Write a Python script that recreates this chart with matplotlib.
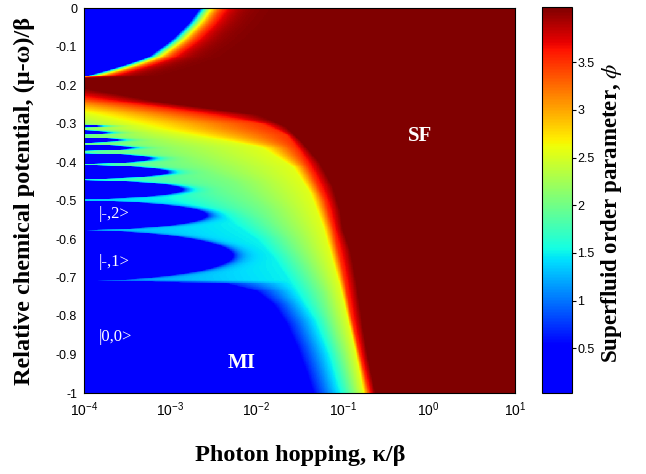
import numpy as np
import matplotlib
matplotlib.use('Agg')
import matplotlib.pyplot as plt
from matplotlib.colors import ListedColormap

plt.rcParams['axes.unicode_minus'] = False
plt.rcParams['mathtext.fontset'] = 'stix'

# contour lines of the order parameter
# (log10 kappa, mu) points along each line
lev_phi = [0.7, 1.5, 2.05, 2.55, 3.5, 4.08]
c1_k = [-6.0, -3.2, -2.3, -1.95, -1.75, -1.60, -1.48, -1.38, -1.29]
c1_mu = [-0.705, -0.711, -0.716, -0.735, -0.77, -0.82, -0.88, -0.94, -1.0]
c2_k = [-4.0, -3.12, -2.34, -2.0, -1.8, -1.55, -1.32, -1.16, -1.03]
c2_mu = [-0.45, -0.49, -0.55, -0.60, -0.65, -0.73, -0.81, -0.90, -1.0]
c3_k = [-4.0, -3.12, -2.3, -1.9, -1.6, -1.40, -1.23, -1.0, -0.88]
c3_mu = [-0.315, -0.38, -0.45, -0.52, -0.60, -0.67, -0.74, -0.90, -1.0]
c4_k = [-4.0, -3.12, -1.96, -1.58, -1.38, -1.23, -1.03, -0.85, -0.76]
c4_mu = [-0.273, -0.317, -0.361, -0.413, -0.481, -0.569, -0.725, -0.896, -1.0]
c5_k = [-4.0, -3.12, -1.96, -1.65, -1.50, -1.35, -1.20, -1.10, -1.00, -0.90, -0.80, -0.69]
c5_mu = [-0.235, -0.26, -0.30, -0.33, -0.375, -0.43, -0.50, -0.58, -0.68, -0.80, -0.90, -1.0]
c6_k = [-4.0, -3.12, -1.96, -1.65, -1.46, -1.26, -1.11, -1.03, -0.995, -0.91, -0.83, -0.76, -0.70, -0.62]
c6_mu = [-0.208, -0.244, -0.278, -0.309, -0.351, -0.403, -0.465, -0.525, -0.577, -0.629, -0.725, -0.836, -0.914, -1.0]
contours = [(c1_k, c1_mu), (c2_k, c2_mu), (c3_k, c3_mu),
            (c4_k, c4_mu), (c5_k, c5_mu), (c6_k, c6_mu)]

# Mott lobes on the left: top and bottom in mu, tip in log10 kappa
lobe_top = [-0.302, -0.318, -0.336, -0.355, -0.377, -0.408, -0.447, -0.500, -0.577]
lobe_bot = [-0.311, -0.329, -0.350, -0.371, -0.405, -0.444, -0.496, -0.577, -0.709]
lobe_tip = [-3.87, -3.78, -3.64, -3.49, -3.27, -3.06, -2.89, -2.62, -2.32]

# upper-left lobe boundary
top_mu = [-0.182, -0.177, -0.156, -0.127, -0.083, -0.039, -0.005, 0.0]
top_k = [-4.6, -4.0, -3.66, -3.27, -3.0, -2.80, -2.69, -2.67]

u = np.linspace(-4, 1, 700)
mu = np.linspace(-1, 0, 600)
phi = np.zeros((mu.size, u.size))

for i, m in enumerate(mu):
    xs = []
    for ck, cm in contours:
        ck2 = [-12.0] + list(ck)
        cm2 = [0.02] + list(cm)
        xs.append(np.interp(-m, -np.array(cm2), ck2))
    xs = [xs[0] - 0.2] + xs
    xs = np.maximum.accumulate(np.array(xs) + np.arange(len(xs)) * 1e-6)
    row = np.interp(u, xs, [0.0] + lev_phi)

    mask = np.ones_like(u)
    for a, b, tip in zip(lobe_top, lobe_bot, lobe_tip):
        if b <= m <= a:
            t = (m - (a + b) / 2) / ((a - b) / 2)
            ub = -4.3 + (tip + 4.3) * np.sqrt(max(1 - t * t, 0))
            d = u - ub
            mask *= np.where(d > 0, 1 - np.exp(-d / 0.1), 0)
    if top_mu[0] <= m <= top_mu[-1]:
        ub = np.interp(m, top_mu, top_k)
        d = u - ub
        mask *= np.where(d > 0, 1 - np.exp(-d / 0.15), 0)
    phi[i] = row * mask

jet = plt.get_cmap('jet')
cmap = ListedColormap(jet(np.maximum(np.linspace(0, 1, 256), 0.11)))

fig = plt.figure(figsize=(6.46, 4.74), dpi=100)
ax = fig.add_axes([84 / 646, 81 / 474, 431 / 646, 385 / 474])
cax = fig.add_axes([542 / 646, 81 / 474, 30 / 646, 386 / 474])

pc = ax.pcolormesh(10 ** u, mu, phi, cmap=cmap, vmin=0.03, vmax=4.08,
                   shading='nearest', rasterized=True)
ax.set_xscale('log')
ax.set_xlim(1e-4, 10)
ax.set_ylim(-1, 0)

tick_font = 'Liberation Sans'
ax.set_xticks([1e-4, 1e-3, 1e-2, 1e-1, 1e0, 1e1])
ax.set_yticks(np.arange(-1, 0.01, 0.1))
ax.set_yticklabels(['-1', '-0.9', '-0.8', '-0.7', '-0.6', '-0.5',
                    '-0.4', '-0.3', '-0.2', '-0.1', '0'])
ax.tick_params(length=0, pad=5)
for lab in ax.get_xticklabels():
    lab.set_fontfamily(tick_font)
    lab.set_fontsize(10)
for lab in ax.get_yticklabels():
    lab.set_fontfamily(tick_font)
    lab.set_fontsize(9)
ax.minorticks_off()

cb = fig.colorbar(pc, cax=cax)
cb.set_ticks([0.5, 1, 1.5, 2, 2.5, 3, 3.5])
cb.set_ticklabels(['0.5', '1', '1.5', '2', '2.5', '3', '3.5'])
cax.tick_params(length=3, width=0.8, pad=1)
for lab in cax.get_yticklabels():
    lab.set_fontfamily(tick_font)
    lab.set_fontsize(9)

serif = 'Liberation Serif'
fig.text(300 / 646, 1 - 456 / 474, 'Photon hopping, κ/β', ha='center', va='center',
         fontsize=17.5, fontweight='bold', family=serif)
fig.text(24 / 646, 1 - 201 / 474, 'Relative chemical potential, (μ-ω)/β',
         rotation=90, ha='center', va='center', fontsize=17.5, fontweight='bold', family=serif)
fig.text(612 / 646, 1 - 213 / 474, r'Superfluid order parameter, $\phi$',
         rotation=90, ha='center', va='center', fontsize=16.5, fontweight='bold', family=serif)

ax.text(0.79, -0.333, 'SF', color='white', fontsize=15, fontweight='bold',
        family=serif, ha='center', va='center')
ax.text(6.8e-3, -0.922, 'MI', color='white', fontsize=15, fontweight='bold',
        family=serif, ha='center', va='center')
ax.text(1.5e-4, -0.535, '|-,2>', color='white', fontsize=12, family=serif, va='center')
ax.text(1.5e-4, -0.661, '|-,1>', color='white', fontsize=12, family=serif, va='center')
ax.text(1.5e-4, -0.855, '|0,0>', color='white', fontsize=12, family=serif, va='center')

fig.savefig('out.png', dpi=100)
